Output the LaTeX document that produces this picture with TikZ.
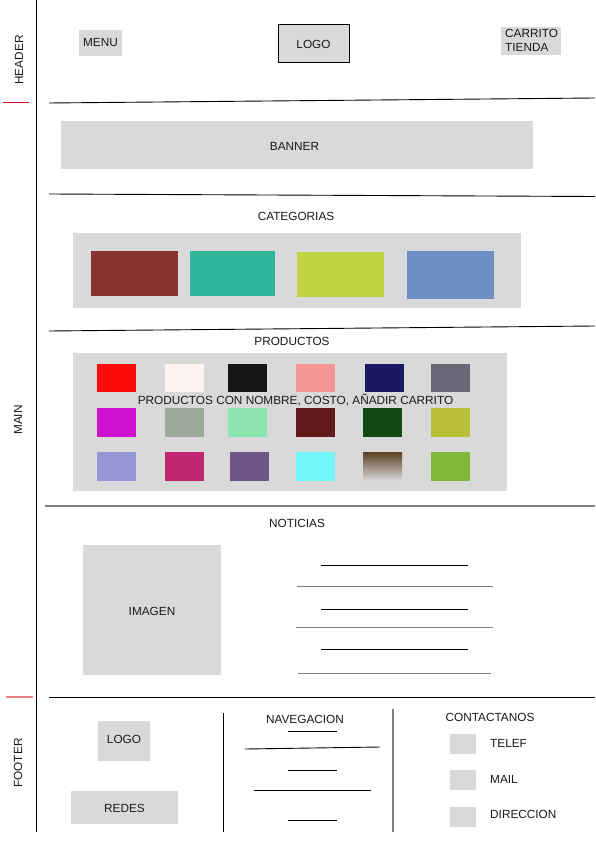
\documentclass[tikz,border=0pt]{standalone}
\usepackage{fontspec}
\setmainfont{Liberation Sans}
\begin{document}
\begin{tikzpicture}[x=1pt,y=-1pt,
  txt/.style={font=\fontsize{11.8}{13}\selectfont, text=black!90, inner sep=0pt},
  thinline/.style={line width=0.9pt, black},
  grayline/.style={line width=1.9pt, midgray}]
\definecolor{boxgray}{HTML}{D9D9D9}
\definecolor{midgray}{HTML}{808080}
\useasboundingbox (0,0) rectangle (595,842);
\fill[white] (0,0) rectangle (595,842);

% left rail
\draw[thinline] (36,0) -- (36,832);
\draw[line width=1pt, color={rgb,255:red,204;green,30;blue,30}] (3,103) -- (29,103);
\draw[line width=1.5pt, color={rgb,255:red,240;green,128;blue,128}] (6,697) -- (33,697);
\node[txt, rotate=90] (lheader) at (19,60) {HEADER};
\node[txt, rotate=90] (lmain) at (18,420) {MAIN};
\node[txt, rotate=90] (lfooter) at (18,763) {FOOTER};

% header
\fill[boxgray] (79,30) rectangle (122,56);
\node[txt] (menu) at (100.5,43) {MENU};
\filldraw[fill=boxgray, draw=black, line width=0.9pt] (278,24) rectangle (349,62);
\node[txt] (logo) at (313.5,44) {LOGO};
\fill[boxgray] (501,27) rectangle (561,55);
\node[txt, align=left, anchor=north west, font=\fontsize{11.8}{14}\selectfont] (carrito) at (505,29) {CARRITO\\TIENDA};
\draw[thinline] (49,103) -- (595,98);

% banner
\fill[boxgray] (61,121) rectangle (533,169);
\node[txt] (banner) at (294.5,146.5) {BANNER};
\draw[thinline] (49,194) -- (595,196.5);

% categorias
\node[txt] (categorias) at (296,216.5) {CATEGORIAS};
\fill[boxgray] (73,233) rectangle (521,308);
\fill[color={rgb,255:red,137;green,50;blue,50}] (91,251) rectangle (178,296);
\fill[color={rgb,255:red,46;green,181;blue,156}] (190,251) rectangle (275,296);
\fill[color={rgb,255:red,191;green,212;blue,64}] (297,252) rectangle (384,297);
\fill[color={rgb,255:red,111;green,143;blue,196}] (407,251) rectangle (494,299);
\draw[thinline] (49,331) -- (595,326);

% productos
\node[txt] (productos) at (292,341) {PRODUCTOS};
\fill[boxgray] (73,353) rectangle (507,491);
% row 1
\fill[color={rgb,255:red,255;green,10;blue,10}] (97,364) rectangle (136,392);
\fill[color={rgb,255:red,255;green,243;blue,242}] (165,364) rectangle (204,392);
\fill[color={rgb,255:red,22;green,22;blue,22}] (228,364) rectangle (267,392);
\fill[color={rgb,255:red,245;green,149;blue,149}] (296,364) rectangle (335,392);
\fill[color={rgb,255:red,26;green,26;blue,100}] (365,364) rectangle (404,392);
\fill[color={rgb,255:red,106;green,104;blue,118}] (431,364) rectangle (470,392);
% row 2
\fill[color={rgb,255:red,204;green,18;blue,204}] (97,408) rectangle (136,437);
\fill[color={rgb,255:red,156;green,170;blue,154}] (165,408) rectangle (204,437);
\fill[color={rgb,255:red,140;green,229;blue,176}] (228,408) rectangle (267,437);
\fill[color={rgb,255:red,99;green,26;blue,29}] (296,408) rectangle (335,437);
\fill[color={rgb,255:red,18;green,74;blue,20}] (363,408) rectangle (402,437);
\fill[color={rgb,255:red,184;green,192;blue,58}] (431,408) rectangle (470,437);
% row 3
\fill[color={rgb,255:red,148;green,150;blue,214}] (97,452) rectangle (136,481);
\fill[color={rgb,255:red,192;green,37;blue,110}] (165,452) rectangle (204,481);
\fill[color={rgb,255:red,110;green,85;blue,138}] (230,452) rectangle (269,481);
\fill[color={rgb,255:red,115;green,247;blue,251}] (296,452) rectangle (335,481);
\shade[top color={rgb,255:red,91;green,67;blue,36}, bottom color=boxgray] (363,452) rectangle (402,481);
\fill[color={rgb,255:red,128;green,184;blue,56}] (431,452) rectangle (470,481);
\node[txt] (prodtext) at (295.5,400) {PRODUCTOS CON NOMBRE, COSTO, AÑADIR CARRITO};
\draw[grayline] (45,506) -- (595,506);

% noticias
\node[txt] (noticias) at (297,523) {NOTICIAS};
\fill[boxgray] (83,545) rectangle (221,675);
\node[txt] (imagen) at (152,611) {IMAGEN};
\draw[thinline] (321,565) -- (468,565);
\draw[grayline] (297,586.5) -- (493,586.5);
\draw[thinline] (321,609.5) -- (468,609.5);
\draw[grayline] (296,627.5) -- (493,627.5);
\draw[thinline] (321,649) -- (468,649);
\draw[grayline] (298,673.5) -- (491,673.5);
\draw[thinline] (49,697) -- (595,697);

% footer
\fill[boxgray] (98,721) rectangle (150,761);
\node[txt] (flogo) at (124,739.5) {LOGO};
\fill[boxgray] (71,791) rectangle (178,824);
\node[txt] (redes) at (124.5,808.5) {REDES};
\draw[thinline] (223,713) -- (223,832);
\draw[grayline] (393,709) -- (393,832);
\node[txt] (nav) at (305,719.5) {NAVEGACION};
\draw[thinline] (288,731) -- (337,731);
\draw[thinline] (245,749) -- (380,747);
\draw[thinline] (288,770.5) -- (337,770.5);
\draw[thinline] (254,790.5) -- (371,790.5);
\draw[thinline] (288,820) -- (337,820);
\node[txt] (contact) at (490,717.5) {CONTACTANOS};
\fill[boxgray] (450,734) rectangle (476,754);
\fill[boxgray] (450,770) rectangle (476,790);
\fill[boxgray] (450,807) rectangle (476,827);
\node[txt, anchor=west] (telef) at (490,743) {TELEF};
\node[txt, anchor=west] (mail) at (490,779) {MAIL};
\node[txt, anchor=west] (dir) at (490,814) {DIRECCION};
\end{tikzpicture}
\end{document}
